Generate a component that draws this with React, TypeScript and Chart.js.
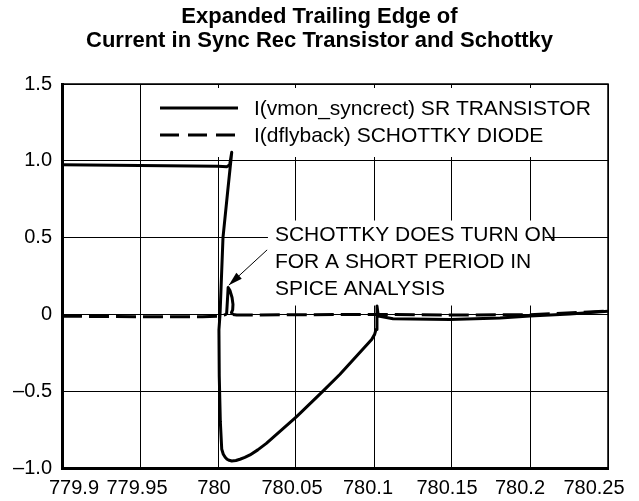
import React, { useEffect, useRef } from "react";
import { Chart, registerables } from "chart.js";

Chart.register(...registerables);

const TITLE_LINES = ["Expanded Trailing Edge of", "Current in Sync Rec Transistor and Schottky"];

const X_TICKS = [779.9, 779.95, 780, 780.05, 780.1, 780.15, 780.2, 780.25];
const X_TICK_LABELS = ["779.9", "779.95", "780", "780.05", "780.1", "780.15", "780.2", "780.25"];
const Y_TICKS = [-1, -0.5, 0, 0.5, 1, 1.5];
const Y_TICK_LABELS = ["\u20131.0", "\u20130.5", "0", "0.5", "1.0", "1.5"];

const SR_LABEL = "I(vmon_syncrect) SR TRANSISTOR";
const SR_X = [
  779.9, 779.95, 780.0, 780.0058, 780.0075, 780.0088, 780.0062, 780.0032, 780.0013, 780.0006,
  780.0008, 780.0015, 780.0024, 780.0034, 780.0046, 780.0058, 780.0072, 780.0088, 780.0115, 780.0141,
  780.0172, 780.0205, 780.0255, 780.031, 780.0504, 780.0673, 780.0782, 780.0985, 780.1004, 780.1013,
  780.1019, 780.1019, 780.1028, 780.1122, 780.1487, 780.1808, 780.2, 780.2256, 780.25,
];
const SR_Y = [
  0.975, 0.97, 0.965, 0.962, 0.975, 1.055, 0.8, 0.5, 0.0, -0.1,
  -0.4, -0.7, -0.878, -0.91, -0.93, -0.943, -0.95, -0.954, -0.951, -0.943,
  -0.931, -0.915, -0.882, -0.84, -0.665, -0.5, -0.39, -0.163, -0.13, -0.098,
  -0.03, 0.055, -0.011, -0.028, -0.033, -0.023, -0.011, 0.003, 0.02,
];

const SK_LABEL = "I(dflyback) SCHOTTKY DIODE";
const SK_X = [
  779.9, 779.95, 779.99, 780.0, 780.003, 780.0055, 780.0058, 780.0062, 780.0065, 780.0077,
  780.009, 780.0096, 780.0094, 780.0086, 780.0095, 780.012, 780.05, 780.1, 780.15, 780.2,
  780.25,
];
const SK_Y = [
  -0.012, -0.015, -0.016, -0.012, -0.005, 0.0, 0.05, 0.12, 0.175, 0.155,
  0.11, 0.065, 0.03, 0.012, 0.0, -0.004, -0.002, 0.0, -0.004, -0.002,
  0.022,
];
const SK_LOOP_FIRST = 5;
const SK_LOOP_LAST = 14;

const NOTE_LINES = ["SCHOTTKY DOES TURN ON", "FOR A SHORT PERIOD IN", "SPICE ANALYSIS"];
const NOTE_AT = { x: 780.0365, y: 0.52 };
const ARROW_FROM = { x: 780.0315, y: 0.42 };
const ARROW_TO = { x: 780.0069, y: 0.19 };

const X_LABEL_NUDGE = [12, -3, -4, -4, -6, -5, -10, -14];

const FONT = "'Liberation Sans', Arial, Helvetica, sans-serif";
const DASH = [20, 7];

const overlayPlugin = {
  id: "overlay",
  beforeDatasetsDraw(chart: any) {
    const { ctx, chartArea: a, scales } = chart;
    ctx.save();
    ctx.fillStyle = "#fff";
    ctx.fillRect(a.left + 88, a.top + 4, a.right - 1.5 - (a.left + 88), 69);
    const nx = scales.x.getPixelForValue(NOTE_AT.x);
    const ny = scales.y.getPixelForValue(NOTE_AT.y);
    ctx.fillRect(nx - 7, ny - 14, 277, 85);
    ctx.restore();
  },
  afterDatasetsDraw(chart: any) {
    const { ctx, chartArea: a, scales } = chart;
    ctx.save();
    ctx.strokeStyle = "#000";
    ctx.lineWidth = 1.5;
    ctx.beginPath();
    ctx.moveTo(a.left, a.top);
    ctx.lineTo(a.right, a.top);
    ctx.lineTo(a.right, a.bottom);
    ctx.stroke();

    const ds = chart.data.datasets;
    const lx0 = a.left + 98;
    const lx1 = a.left + 176;
    const rows = [a.top + 24, a.top + 51];
    ctx.font = `21px ${FONT}`;
    ctx.textBaseline = "middle";
    ctx.textAlign = "left";
    ctx.fillStyle = "#000";
    ds.forEach((d: any, i: number) => {
      ctx.lineWidth = 3.2;
      ctx.setLineDash(i === 0 ? [] : [19, 9]);
      ctx.beginPath();
      ctx.moveTo(lx0, rows[i]);
      ctx.lineTo(lx1, rows[i]);
      ctx.stroke();
      ctx.setLineDash([]);
      ctx.fillText(d.label, a.left + 192, rows[i] + 1);
    });

    const nx = scales.x.getPixelForValue(NOTE_AT.x);
    const ny = scales.y.getPixelForValue(NOTE_AT.y);
    NOTE_LINES.forEach((t, i) => ctx.fillText(t, nx, ny + i * 27 + 1));

    const fx = scales.x.getPixelForValue(ARROW_FROM.x);
    const fy = scales.y.getPixelForValue(ARROW_FROM.y);
    const tx = scales.x.getPixelForValue(ARROW_TO.x);
    const ty = scales.y.getPixelForValue(ARROW_TO.y);
    ctx.lineWidth = 1;
    ctx.beginPath();
    ctx.moveTo(fx, fy);
    ctx.lineTo(tx, ty);
    ctx.stroke();
    const ang = Math.atan2(ty - fy, tx - fx);
    const L = 14;
    const W = 4;
    const bx = tx - L * Math.cos(ang);
    const by = ty - L * Math.sin(ang);
    ctx.beginPath();
    ctx.moveTo(tx, ty);
    ctx.lineTo(bx + W * Math.sin(ang), by - W * Math.cos(ang));
    ctx.lineTo(bx - W * Math.sin(ang), by + W * Math.cos(ang));
    ctx.closePath();
    ctx.fill();

    ctx.font = `20px ${FONT}`;
    ctx.textAlign = "center";
    X_TICKS.forEach((v, i) => {
      ctx.fillText(X_TICK_LABELS[i], scales.x.getPixelForValue(v) + X_LABEL_NUDGE[i], a.bottom + 20);
    });
    ctx.restore();
  },
};

export default function App() {
  const ref = useRef<HTMLCanvasElement | null>(null);
  useEffect(() => {
    if (!ref.current) return;
    Chart.defaults.font.family = FONT;
    Chart.defaults.color = "#000";
    const chart = new Chart(ref.current, {
      type: "scatter",
      data: {
        datasets: [
          {
            label: SR_LABEL,
            data: SR_X.map((x, i) => ({ x, y: SR_Y[i] })),
            showLine: true,
            borderColor: "#000",
            backgroundColor: "#000",
            borderWidth: 3,
            pointRadius: 0,
            borderJoinStyle: "round",
            tension: 0,
          },
          {
            label: SK_LABEL,
            data: SK_X.map((x, i) => ({ x, y: SK_Y[i] })),
            showLine: true,
            borderColor: "#000",
            backgroundColor: "#000",
            borderWidth: 3,
            pointRadius: 0,
            borderDash: DASH,
            borderJoinStyle: "round",
            tension: 0,
            segment: {
              borderDash: (c: any) =>
                c.p0DataIndex >= SK_LOOP_FIRST && c.p0DataIndex < SK_LOOP_LAST ? [] : DASH,
            },
          },
        ],
      },
      options: {
        responsive: false,
        animation: false,
        devicePixelRatio: 1,
        layout: { padding: 0 },
        plugins: {
          legend: { display: false },
          tooltip: { enabled: false },
          title: {
            display: true,
            text: TITLE_LINES,
            color: "#000",
            font: { size: 22, weight: "bold", lineHeight: 1.1, family: FONT },
            padding: { top: 5, bottom: 30.6 },
          },
        },
        scales: {
          x: {
            type: "linear",
            min: 779.9,
            max: 780.25,
            afterBuildTicks: (s: any) => {
              s.ticks = X_TICKS.map((v) => ({ value: v }));
            },
            afterFit: (s: any) => {
              s.height = 33;
            },
            ticks: { display: false },
            grid: { color: "#000", lineWidth: 1, drawTicks: false },
            border: { color: "#000", width: 3 },
          },
          y: {
            type: "linear",
            min: -1,
            max: 1.5,
            afterBuildTicks: (s: any) => {
              s.ticks = Y_TICKS.map((v) => ({ value: v }));
            },
            afterFit: (s: any) => {
              s.width = 62;
            },
            ticks: {
              padding: 10,
              font: { size: 20, family: FONT },
              color: "#000",
              callback: (_v: any, i: number) => Y_TICK_LABELS[i],
            },
            grid: { color: "#000", lineWidth: 1, drawTicks: false },
            border: { color: "#000", width: 3 },
          },
          yRight: {
            type: "linear",
            position: "right",
            min: -1,
            max: 1.5,
            afterFit: (s: any) => {
              s.width = 31;
            },
            ticks: { display: false },
            grid: { display: false, drawTicks: false },
            border: { display: false },
          },
        },
      },
      plugins: [overlayPlugin],
    } as any);
    return () => chart.destroy();
  }, []);
  return (
    <div style={{ position: "fixed", left: 0, top: 0, width: 639, height: 501, background: "#fff" }}>
      <canvas ref={ref} width={639} height={501} style={{ display: "block" }} />
    </div>
  );
}
